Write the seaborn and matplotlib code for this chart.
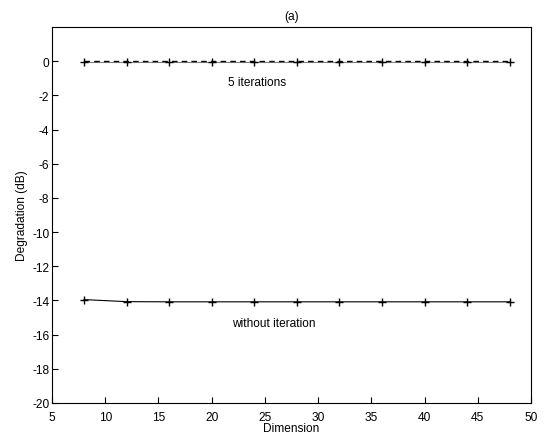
import matplotlib
matplotlib.use("Agg")
import matplotlib.pyplot as plt
import seaborn as sns
import pandas as pd

dimension = [8, 12, 16, 20, 24, 28, 32, 36, 40, 44, 48]
iter5 = [-0.03, -0.03, -0.03, -0.03, -0.03, -0.03, -0.03, -0.03, -0.03, -0.03, -0.03]
iter5_ref = [0.0, 0.0, 0.0, 0.0, 0.0, 0.0, 0.0, 0.0, 0.0, 0.0, 0.0]
no_iter = [-13.95, -14.07, -14.08, -14.08, -14.08, -14.08, -14.08, -14.08, -14.08, -14.08, -14.08]
x_ticks = [5, 10, 15, 20, 25, 30, 35, 40, 45, 50]
y_ticks = [-20, -18, -16, -14, -12, -10, -8, -6, -4, -2, 0]

sns.set_theme(style="ticks")
plt.rcParams['font.family'] = ['Liberation Sans', 'DejaVu Sans']
plt.rcParams['axes.unicode_minus'] = False
plt.rcParams['text.color'] = 'black'
plt.rcParams['axes.labelcolor'] = 'black'

fs = 8.6
fig = plt.figure(figsize=(5.46, 4.39), dpi=100)
ax = fig.add_axes([52/546, 1 - 404/439, (531-52)/546, (404-28)/439])

df = pd.DataFrame({"Dimension": dimension, "iter5": iter5, "ref": iter5_ref, "no": no_iter})
sns.lineplot(data=df, x="Dimension", y="iter5", ax=ax, color="#808080", lw=0.8,
             marker="+", markersize=6, markeredgecolor="black", markeredgewidth=1.0)
sns.lineplot(data=df, x="Dimension", y="ref", ax=ax, color="black", lw=1.0, dashes=False,
             linestyle=(0, (4, 3)))
sns.lineplot(data=df, x="Dimension", y="no", ax=ax, color="black", lw=0.8,
             marker="+", markersize=6, markeredgecolor="black", markeredgewidth=1.0)

ax.set_xlim(5, 50)
ax.set_ylim(-20, 2)
ax.set_xticks(x_ticks)
ax.set_yticks(y_ticks)
ax.tick_params(direction="in", length=4, width=0.8, labelsize=fs, pad=2, colors="black")
ax.tick_params(axis="x", pad=6)
for s in ax.spines.values():
    s.set_visible(True)
    s.set_color("black")
    s.set_linewidth(0.8)
ax.set_xlabel("Dimension", fontsize=fs, labelpad=-1)
ax.set_ylabel("Degradation (dB)", fontsize=fs, labelpad=3)
ax.set_title("(a)", fontsize=fs, pad=6)
ax.text(24.3, -1.2, "5 iterations", fontsize=fs, ha="center", va="center")
ax.text(25.8, -15.3, "without iteration", fontsize=fs, ha="center", va="center")

fig.savefig("out.png", dpi=100)
